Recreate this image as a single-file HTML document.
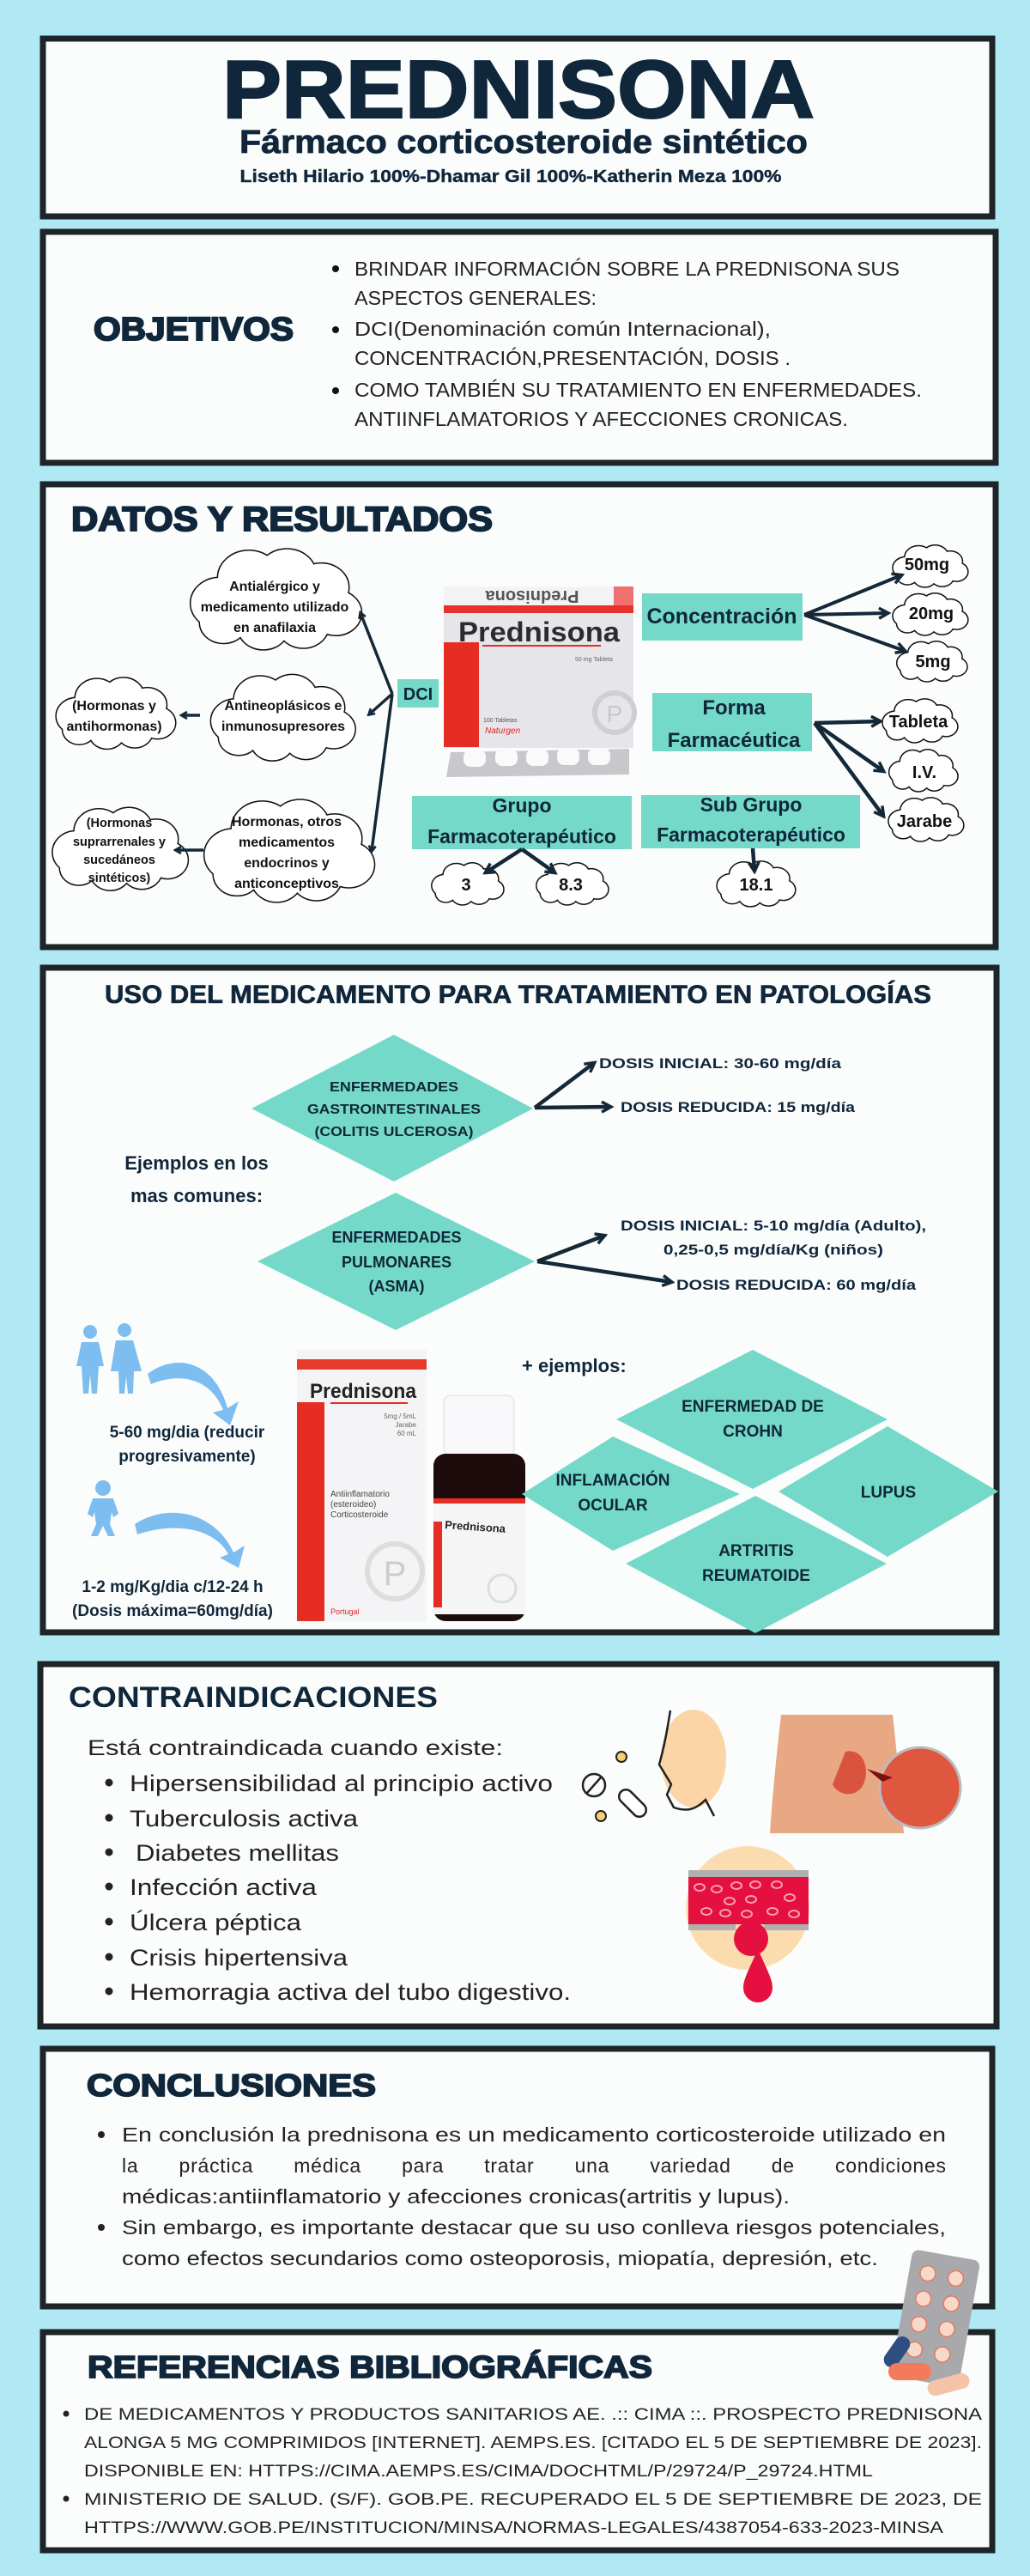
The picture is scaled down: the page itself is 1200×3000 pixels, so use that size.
<!DOCTYPE html>
<html><head><meta charset="utf-8"><style>
html,body{margin:0;padding:0;background:#b0e9f4;}
svg{display:block}
text{font-family:"Liberation Sans",sans-serif;}
</style></head><body>
<svg width="1200" height="3000" viewBox="0 0 1200 3000" xmlns="http://www.w3.org/2000/svg">
<defs>
<marker id="ah" markerWidth="10" markerHeight="10" refX="7" refY="5" orient="auto" markerUnits="userSpaceOnUse" viewBox="0 0 10 10">
<path d="M1,1 L8,5 L1,9" fill="none" stroke="#142838" stroke-width="2.6"/></marker>
<marker id="ah2" markerWidth="16" markerHeight="16" refX="12" refY="8" orient="auto" markerUnits="userSpaceOnUse" viewBox="0 0 16 16">
<path d="M2,2 L13,8 L2,14" fill="none" stroke="#142838" stroke-width="3.5"/></marker>
<symbol id="cloud" viewBox="0 0 100 66" preserveAspectRatio="none" overflow="visible">
<g fill="none" stroke="#111" stroke-width="3" vector-effect="non-scaling-stroke">
<circle cx="20" cy="36" r="16" vector-effect="non-scaling-stroke"/><circle cx="36" cy="20" r="17" vector-effect="non-scaling-stroke"/><circle cx="57" cy="18" r="16" vector-effect="non-scaling-stroke"/><circle cx="76" cy="26" r="15" vector-effect="non-scaling-stroke"/><circle cx="84" cy="42" r="14" vector-effect="non-scaling-stroke"/><circle cx="66" cy="50" r="14" vector-effect="non-scaling-stroke"/><circle cx="44" cy="51" r="14" vector-effect="non-scaling-stroke"/><circle cx="22" cy="48" r="13" vector-effect="non-scaling-stroke"/></g>
<g fill="#fff"><circle cx="20" cy="36" r="16"/><circle cx="36" cy="20" r="17"/><circle cx="57" cy="18" r="16"/><circle cx="76" cy="26" r="15"/><circle cx="84" cy="42" r="14"/><circle cx="66" cy="50" r="14"/><circle cx="44" cy="51" r="14"/><circle cx="22" cy="48" r="13"/><rect x="25" y="25" width="55" height="25"/></g>
</symbol>
</defs>
<rect width="1200" height="3000" fill="#b0e9f4"/>

<!-- BOX 1 -->
<rect x="50" y="45" width="1106" height="207" fill="#fbfdfd" stroke="#1d2529" stroke-width="7"/>
<text x="604" y="137" text-anchor="middle" font-size="96" font-weight="bold" fill="#10263a" stroke="#10263a" stroke-width="2" textLength="690" lengthAdjust="spacingAndGlyphs">PREDNISONA</text>
<text x="610" y="178" text-anchor="middle" font-size="38" font-weight="bold" fill="#10263a" stroke="#10263a" stroke-width="0.8" textLength="662" lengthAdjust="spacingAndGlyphs">Fármaco corticosteroide sintético</text>
<text x="595" y="212" text-anchor="middle" font-size="20" font-weight="bold" fill="#10263a" stroke="#10263a" stroke-width="0.4" textLength="631" lengthAdjust="spacingAndGlyphs">Liseth Hilario 100%-Dhamar Gil 100%-Katherin Meza 100%</text>

<!-- BOX 2 -->
<rect x="50" y="270" width="1110" height="269" fill="#fbfdfd" stroke="#1d2529" stroke-width="7"/>
<text x="109" y="396" font-size="38" font-weight="bold" fill="#10263a" stroke="#10263a" stroke-width="2" textLength="233" lengthAdjust="spacingAndGlyphs">OBJETIVOS</text>
<g font-size="23" fill="#222">
<circle cx="391" cy="313" r="4" fill="#111"/><circle cx="391" cy="384" r="4" fill="#111"/><circle cx="391" cy="455" r="4" fill="#111"/>
<text x="413" y="321" textLength="635" lengthAdjust="spacingAndGlyphs">BRINDAR INFORMACIÓN SOBRE LA PREDNISONA SUS</text>
<text x="413" y="355" textLength="282" lengthAdjust="spacingAndGlyphs">ASPECTOS GENERALES:</text>
<text x="413" y="391" textLength="485" lengthAdjust="spacingAndGlyphs">DCI(Denominación común Internacional),</text>
<text x="413" y="425" textLength="508" lengthAdjust="spacingAndGlyphs">CONCENTRACIÓN,PRESENTACIÓN, DOSIS .</text>
<text x="413" y="462" textLength="661" lengthAdjust="spacingAndGlyphs">COMO TAMBIÉN SU TRATAMIENTO EN ENFERMEDADES.</text>
<text x="413" y="496" textLength="575" lengthAdjust="spacingAndGlyphs">ANTIINFLAMATORIOS Y AFECCIONES CRONICAS.</text>
</g>

<!-- BOX 3 -->
<rect x="50" y="564" width="1110" height="539" fill="#fbfdfd" stroke="#1d2529" stroke-width="7"/>
<text x="83" y="618" font-size="40" font-weight="bold" fill="#10263a" stroke="#10263a" stroke-width="2" textLength="491" lengthAdjust="spacingAndGlyphs">DATOS Y RESULTADOS</text>

<use href="#cloud" x="214" y="636" width="211" height="122"/>
<use href="#cloud" x="239" y="783" width="178" height="104"/>
<use href="#cloud" x="60" y="787" width="147" height="86"/>
<use href="#cloud" x="230" y="928" width="210" height="124"/>
<use href="#cloud" x="55" y="938" width="167" height="100"/>
<g font-size="16" font-weight="bold" fill="#111" text-anchor="middle">
<text x="320" y="688">Antialérgico y</text><text x="320" y="712">medicamento utilizado</text><text x="320" y="736">en anafilaxia</text>
<text x="330" y="827">Antineoplásicos e</text><text x="330" y="851">inmunosupresores</text>
<text x="133" y="827">(Hormonas y</text><text x="133" y="851">antihormonas)</text>
<text x="334" y="962">Hormonas, otros</text><text x="334" y="986">medicamentos</text><text x="334" y="1010">endocrinos y</text><text x="334" y="1034">anticonceptivos</text>
</g>
<g font-size="14.5" font-weight="bold" fill="#111" text-anchor="middle">
<text x="139" y="963">(Hormonas</text><text x="139" y="985">suprarrenales y</text><text x="139" y="1006">sucedáneos</text><text x="139" y="1027">sintéticos)</text>
</g>
<g stroke="#142838" stroke-width="3.5" fill="none" marker-end="url(#ah)">
<line x1="457" y1="808" x2="420" y2="714"/>
<line x1="457" y1="808" x2="430" y2="832"/>
<line x1="457" y1="808" x2="433" y2="991"/>
<line x1="233" y1="833" x2="212" y2="833"/>
<line x1="237" y1="990" x2="205" y2="990"/>
</g>
<rect x="463" y="791" width="48" height="33" fill="#74d9c8"/>
<text x="487" y="815" text-anchor="middle" font-size="20" font-weight="bold" fill="#10263a">DCI</text>

<!-- product 1 -->
<rect x="517" y="683" width="221" height="188" fill="#e6e6ea"/>
<rect x="517" y="683" width="221" height="24" fill="#f3f3f5"/>
<rect x="517" y="705" width="221" height="9" fill="#e8302c"/>
<rect x="715" y="683" width="23" height="22" fill="#f07070"/>
<text x="620" y="700" text-anchor="middle" font-size="20" font-weight="bold" fill="#555" transform="rotate(180 620 694)">Prednisona</text>
<rect x="517" y="748" width="41" height="122" fill="#e62d24"/>
<text x="534" y="747" font-size="32" font-weight="bold" fill="#2c2c30" textLength="188" lengthAdjust="spacingAndGlyphs">Prednisona</text>
<rect x="562" y="751" width="138" height="2" fill="#e62d24"/>
<text x="670" y="770" font-size="7" fill="#666">50 mg Tableta</text>
<text x="563" y="841" font-size="7" fill="#555">100 Tabletas</text>
<text x="565" y="854" font-size="10" font-style="italic" fill="#d22">Naturgen</text>
<circle cx="716" cy="830" r="23" fill="none" stroke="#cfcfd3" stroke-width="6"/>
<text x="716" y="841" text-anchor="middle" font-size="28" font-family="Liberation Serif" fill="#c8c8cc">P</text>
<path d="M525,876 L733,872 L733,902 L520,905 Z" fill="#c8c8cc"/>
<g fill="#fafafa"><rect x="540" y="873" width="26" height="20" rx="8"/><rect x="577" y="872" width="26" height="20" rx="8"/><rect x="613" y="872" width="26" height="20" rx="8"/><rect x="649" y="871" width="26" height="20" rx="8"/><rect x="685" y="871" width="26" height="20" rx="8"/></g>

<rect x="748" y="691" width="187" height="55" fill="#74d9c8"/>
<text x="841" y="726" text-anchor="middle" font-size="25" font-weight="bold" fill="#10263a">Concentración</text>
<use href="#cloud" x="1037" y="634" width="92" height="50"/>
<use href="#cloud" x="1037" y="690" width="92" height="50"/>
<use href="#cloud" x="1042" y="746" width="86" height="48"/>
<g font-size="20" font-weight="bold" fill="#111" text-anchor="middle">
<text x="1080" y="664">50mg</text><text x="1085" y="721">20mg</text><text x="1087" y="777">5mg</text></g>
<g stroke="#142838" stroke-width="4" fill="none" marker-end="url(#ah2)">
<line x1="937" y1="716" x2="1050" y2="670"/><line x1="937" y1="716" x2="1034" y2="714"/><line x1="937" y1="716" x2="1054" y2="758"/>
</g>
<rect x="760" y="807" width="186" height="68" fill="#74d9c8"/>
<g font-size="24" font-weight="bold" fill="#10263a" text-anchor="middle"><text x="855" y="832">Forma</text><text x="855" y="870">Farmacéutica</text></g>
<use href="#cloud" x="1025" y="813" width="92" height="52"/>
<use href="#cloud" x="1033" y="872" width="84" height="50"/>
<use href="#cloud" x="1032" y="928" width="92" height="52"/>
<g font-size="20" font-weight="bold" fill="#111" text-anchor="middle">
<text x="1070" y="847">Tableta</text><text x="1077" y="906">I.V.</text><text x="1077" y="963">Jarabe</text></g>
<g stroke="#142838" stroke-width="4.5" fill="none" marker-end="url(#ah2)">
<line x1="949" y1="842" x2="1025" y2="840"/><line x1="949" y1="842" x2="1029" y2="898"/><line x1="949" y1="842" x2="1029" y2="950"/>
</g>
<rect x="480" y="927" width="256" height="62" fill="#74d9c8"/>
<g font-size="23" font-weight="bold" fill="#10263a" text-anchor="middle"><text x="608" y="946">Grupo</text><text x="608" y="982">Farmacoterapéutico</text></g>
<rect x="747" y="926" width="255" height="62" fill="#74d9c8"/>
<g font-size="23" font-weight="bold" fill="#10263a" text-anchor="middle"><text x="875" y="945">Sub Grupo</text><text x="875" y="980">Farmacoterapéutico</text></g>
<use href="#cloud" x="500" y="1004" width="88" height="50"/>
<use href="#cloud" x="622" y="1004" width="88" height="50"/>
<use href="#cloud" x="832" y="1002" width="96" height="54"/>
<g font-size="20" font-weight="bold" fill="#111" text-anchor="middle">
<text x="543" y="1037">3</text><text x="665" y="1037">8.3</text><text x="881" y="1037">18.1</text></g>
<g stroke="#142838" stroke-width="4.5" fill="none" marker-end="url(#ah2)">
<line x1="608" y1="989" x2="566" y2="1016"/><line x1="608" y1="989" x2="646" y2="1016"/><line x1="877" y1="988" x2="879" y2="1014"/>
</g>

<!-- BOX 4 -->
<rect x="50" y="1127" width="1111" height="774" fill="#fbfdfd" stroke="#1d2529" stroke-width="7"/>
<text x="122" y="1168" font-size="30" font-weight="bold" fill="#10263a" stroke="#10263a" stroke-width="0.6" textLength="963" lengthAdjust="spacingAndGlyphs">USO DEL MEDICAMENTO PARA TRATAMIENTO EN  PATOLOGÍAS</text>
<polygon points="459,1205 621,1291 459,1376 293,1291" fill="#74d9c8"/>
<g font-size="16" font-weight="bold" fill="#10263a" text-anchor="middle">
<text x="459" y="1271" textLength="150" lengthAdjust="spacingAndGlyphs">ENFERMEDADES</text><text x="459" y="1297" textLength="202" lengthAdjust="spacingAndGlyphs">GASTROINTESTINALES</text><text x="459" y="1323" textLength="185" lengthAdjust="spacingAndGlyphs">(COLITIS ULCEROSA)</text></g>
<g stroke="#142838" stroke-width="4.5" fill="none" marker-end="url(#ah2)">
<polyline points="623,1290 692,1238"/><line x1="623" y1="1290" x2="711" y2="1289"/>
<line x1="626" y1="1469" x2="704" y2="1439"/><line x1="626" y1="1469" x2="782" y2="1493"/>
</g>
<g font-size="17" font-weight="bold" fill="#10263a">
<text x="698" y="1244" textLength="282" lengthAdjust="spacingAndGlyphs">DOSIS INICIAL: 30-60 mg/día</text>
<text x="723" y="1295" textLength="273" lengthAdjust="spacingAndGlyphs">DOSIS REDUCIDA: 15 mg/día</text>
<text x="723" y="1433" textLength="356" lengthAdjust="spacingAndGlyphs">DOSIS INICIAL: 5-10 mg/día (Adulto),</text>
<text x="773" y="1461" textLength="256" lengthAdjust="spacingAndGlyphs">0,25-0,5 mg/día/Kg (niños)</text>
<text x="788" y="1502" textLength="279" lengthAdjust="spacingAndGlyphs">DOSIS REDUCIDA: 60 mg/día</text>
</g>
<g font-size="22" font-weight="bold" fill="#10263a" text-anchor="middle">
<text x="229" y="1362">Ejemplos en los</text><text x="229" y="1400">mas comunes:</text></g>
<polygon points="461,1389 623,1469 461,1549 300,1469" fill="#74d9c8"/>
<g font-size="18" font-weight="bold" fill="#10263a" text-anchor="middle">
<text x="462" y="1447">ENFERMEDADES</text><text x="462" y="1476">PULMONARES</text><text x="462" y="1504">(ASMA)</text></g>

<!-- people icons -->
<g fill="#7dbdf0">
<circle cx="105" cy="1551" r="8"/><path d="M95,1563 h20 l6,28 h-6 l-2,32 h-6 l-2,-22 l-2,22 h-6 l-2,-32 h-6 z"/>
<circle cx="145" cy="1549" r="8"/><path d="M135,1561 h20 l10,36 h-9 l-1,26 h-6 l-2,-20 l-2,20 h-6 l-1,-26 h-9 z"/>
<circle cx="120" cy="1733" r="9"/><path d="M108,1745 h24 l6,18 l-6,4 l-2,-6 l-2,14 l6,14 h-8 l-6,-12 l-6,12 h-8 l6,-14 l-2,-14 l-2,6 l-6,-4 z"/>
<path d="M172,1600 C205,1575 250,1585 265,1640 L278,1632 L268,1660 L248,1645 L260,1642 C245,1605 210,1598 176,1612 Z"/>
<path d="M157,1775 C195,1750 250,1760 272,1808 L285,1800 L278,1826 L256,1814 L266,1810 C250,1780 205,1772 160,1787 Z"/>
</g>
<g font-size="19" font-weight="bold" fill="#10263a" text-anchor="middle">
<text x="218" y="1674">5-60 mg/dia (reducir</text><text x="218" y="1702">progresivamente)</text>
<text x="201" y="1854">1-2 mg/Kg/dia c/12-24 h</text><text x="201" y="1882">(Dosis máxima=60mg/día)</text></g>

<!-- product 2 -->
<rect x="346" y="1572" width="151" height="316" fill="#f4f4f6"/>
<rect x="346" y="1583" width="151" height="12" fill="#e63a2a"/>
<rect x="346" y="1633" width="32" height="255" fill="#e62d24"/>
<text x="361" y="1628" font-size="24" font-weight="bold" fill="#222" textLength="124" lengthAdjust="spacingAndGlyphs">Prednisona</text>
<rect x="385" y="1633" width="90" height="2" fill="#e62d24"/>
<g font-size="8" fill="#666" text-anchor="end"><text x="485" y="1652">5mg / 5mL</text><text x="485" y="1662">Jarabe</text><text x="485" y="1672">60 mL</text></g>
<g font-size="10" fill="#444"><text x="385" y="1743">Antiinflamatorio</text><text x="385" y="1755">(esteroideo)</text><text x="385" y="1767">Corticosteroide</text></g>
<circle cx="460" cy="1830" r="32" fill="none" stroke="#ddd" stroke-width="6"/>
<text x="460" y="1846" text-anchor="middle" font-size="40" font-family="Liberation Serif" fill="#ccc">P</text>
<text x="385" y="1880" font-size="9" fill="#d22">Portugal</text>
<rect x="517" y="1625" width="82" height="70" rx="8" fill="#f8f8fa" stroke="#ddd"/>
<rect x="505" y="1693" width="107" height="195" rx="14" fill="#1e0c0c"/>
<rect x="505" y="1745" width="107" height="135" fill="#f5f5f5"/>
<rect x="505" y="1745" width="107" height="6" fill="#e62d24"/>
<rect x="505" y="1772" width="10" height="100" fill="#e62d24"/>
<text x="518" y="1780" font-size="13" font-weight="bold" fill="#222" transform="rotate(4 518 1780)">Prednisona</text>
<circle cx="585" cy="1850" r="16" fill="none" stroke="#ddd" stroke-width="3"/>

<text x="608" y="1598" font-size="22" font-weight="bold" fill="#10263a">+ ejemplos:</text>
<polygon points="877,1572 1034,1653 877,1734 718,1653" fill="#74d9c8"/>
<polygon points="714,1673 862,1740 714,1806 608,1740" fill="#74d9c8"/>
<polygon points="1034,1661 1163,1737 1034,1813 907,1737" fill="#74d9c8"/>
<polygon points="880,1742 1033,1821 880,1902 729,1821" fill="#74d9c8"/>
<g font-size="19" font-weight="bold" fill="#10263a" text-anchor="middle">
<text x="877" y="1644">ENFERMEDAD DE</text><text x="877" y="1673">CROHN</text>
<text x="714" y="1730">INFLAMACIÓN</text><text x="714" y="1759">OCULAR</text>
<text x="1035" y="1744">LUPUS</text>
<text x="881" y="1812">ARTRITIS</text><text x="881" y="1841">REUMATOIDE</text></g>

<!-- BOX 5 -->
<rect x="47" y="1938" width="1114" height="422" fill="#fbfdfd" stroke="#1d2529" stroke-width="7"/>
<text x="80" y="1988" font-size="34" font-weight="bold" fill="#10263a" textLength="430" lengthAdjust="spacingAndGlyphs">CONTRAINDICACIONES</text>
<text x="102" y="2044" font-size="25" fill="#222" textLength="484" lengthAdjust="spacingAndGlyphs">Está contraindicada cuando existe:</text>
<g font-size="27" fill="#222">
<circle cx="127" cy="2076" r="4.5"/><circle cx="127" cy="2117" r="4.5"/><circle cx="127" cy="2157" r="4.5"/><circle cx="127" cy="2197" r="4.5"/><circle cx="127" cy="2238" r="4.5"/><circle cx="127" cy="2279" r="4.5"/><circle cx="127" cy="2319" r="4.5"/>
<text x="151" y="2086" textLength="493" lengthAdjust="spacingAndGlyphs">Hipersensibilidad al principio activo</text>
<text x="151" y="2127" textLength="266" lengthAdjust="spacingAndGlyphs">Tuberculosis activa</text>
<text x="158" y="2167" textLength="237" lengthAdjust="spacingAndGlyphs">Diabetes mellitas</text>
<text x="151" y="2207" textLength="218" lengthAdjust="spacingAndGlyphs">Infección activa</text>
<text x="151" y="2248" textLength="200" lengthAdjust="spacingAndGlyphs">Úlcera péptica</text>
<text x="151" y="2289" textLength="254" lengthAdjust="spacingAndGlyphs">Crisis hipertensiva</text>
<text x="151" y="2329" textLength="514" lengthAdjust="spacingAndGlyphs">Hemorragia activa del tubo digestivo.</text>
</g>
<!-- face -->
<ellipse cx="808" cy="2048" rx="38" ry="57" fill="#fbd5a5"/>
<path d="M781,1992 C778,2010 775,2030 768,2055 L782,2078 L777,2090 L785,2105 C800,2110 810,2108 822,2096 L832,2115" fill="none" stroke="#222" stroke-width="2.5"/>
<circle cx="724" cy="2046" r="6" fill="#f7d070" stroke="#222" stroke-width="2"/>
<circle cx="700" cy="2115" r="6" fill="#f7d070" stroke="#222" stroke-width="2"/>
<circle cx="692" cy="2079" r="13" fill="none" stroke="#222" stroke-width="2.5"/><line x1="684" y1="2088" x2="700" y2="2070" stroke="#222" stroke-width="2.5"/>
<rect x="718" y="2092" width="38" height="16" rx="8" fill="#fff" stroke="#222" stroke-width="2.5" transform="rotate(45 737 2100)"/>
<!-- torso -->
<path d="M910,1997 L1040,1997 C1045,2040 1050,2100 1053,2135 L897,2135 C900,2090 905,2040 910,1997 Z" fill="#e9a884"/>
<path d="M985,2040 C1005,2035 1015,2060 1005,2080 C995,2095 975,2090 970,2078" fill="#d9533f"/>
<circle cx="1072" cy="2082" r="47" fill="#e0573f" stroke="#bbb" stroke-width="3"/>
<path d="M1010,2060 L1028,2075 L1040,2070 Z" fill="#7a1010"/>
<!-- blood -->
<circle cx="871" cy="2222" r="72" fill="#fbdcae"/>
<rect x="802" y="2178" width="140" height="8" fill="#b0b0b0"/>
<rect x="802" y="2186" width="140" height="55" fill="#e5103f"/>
<rect x="802" y="2241" width="55" height="7" fill="#b0b0b0"/><rect x="890" y="2241" width="52" height="7" fill="#b0b0b0"/>
<circle cx="875" cy="2258" r="20" fill="#e5103f"/>
<path d="M883,2270 C872,2295 866,2305 866,2315 A17,17 0 0 0 900,2315 C900,2305 894,2295 883,2270 Z" fill="#e5103f"/>
<g fill="none" stroke="#f7a1b5" stroke-width="2"><ellipse cx="815" cy="2198" rx="6" ry="4"/><ellipse cx="835" cy="2200" rx="6" ry="4"/><ellipse cx="858" cy="2196" rx="6" ry="4"/><ellipse cx="880" cy="2195" rx="6" ry="4"/><ellipse cx="905" cy="2195" rx="6" ry="4"/><ellipse cx="920" cy="2210" rx="6" ry="4"/><ellipse cx="850" cy="2214" rx="6" ry="4"/><ellipse cx="875" cy="2212" rx="6" ry="4"/><ellipse cx="823" cy="2226" rx="6" ry="4"/><ellipse cx="845" cy="2228" rx="6" ry="4"/><ellipse cx="870" cy="2229" rx="6" ry="4"/><ellipse cx="900" cy="2226" rx="6" ry="4"/><ellipse cx="925" cy="2229" rx="6" ry="4"/></g>

<!-- BOX 6 -->
<rect x="50" y="2386" width="1106" height="300" fill="#fbfdfd" stroke="#1d2529" stroke-width="7"/>
<text x="101" y="2441" font-size="36" font-weight="bold" fill="#10263a" stroke="#10263a" stroke-width="1.8" textLength="337" lengthAdjust="spacingAndGlyphs">CONCLUSIONES</text>
<g font-size="23" fill="#222">
<circle cx="118" cy="2486" r="4"/><circle cx="118" cy="2594" r="4"/>
<text x="142" y="2494" textLength="960" lengthAdjust="spacingAndGlyphs">En conclusión la prednisona es un medicamento corticosteroide utilizado en</text>
<text x="142" y="2530" textLength="960" lengthAdjust="spacing" word-spacing="40">la práctica médica para tratar una variedad de condiciones</text>
<text x="142" y="2566" textLength="778" lengthAdjust="spacingAndGlyphs">médicas:antiinflamatorio y afecciones cronicas(artritis y lupus).</text>
<text x="142" y="2602" textLength="960" lengthAdjust="spacingAndGlyphs">Sin embargo, es importante destacar que su uso conlleva riesgos potenciales,</text>
<text x="142" y="2638" textLength="881" lengthAdjust="spacingAndGlyphs">como efectos secundarios como osteoporosis, miopatía, depresión, etc.</text>
</g>

<!-- BOX 7 -->
<rect x="50" y="2716" width="1106" height="254" fill="#fbfdfd" stroke="#1d2529" stroke-width="7"/>
<text x="102" y="2769" font-size="36" font-weight="bold" fill="#10263a" stroke="#10263a" stroke-width="1.8" textLength="658" lengthAdjust="spacingAndGlyphs">REFERENCIAS BIBLIOGRÁFICAS</text>
<g font-size="19" fill="#222">
<circle cx="77" cy="2811" r="3.5"/><circle cx="77" cy="2910" r="3.5"/>
<text x="98" y="2818" textLength="1046" lengthAdjust="spacingAndGlyphs">DE MEDICAMENTOS Y PRODUCTOS SANITARIOS AE. .:: CIMA ::. PROSPECTO PREDNISONA</text>
<text x="98" y="2851" textLength="1046" lengthAdjust="spacingAndGlyphs">ALONGA 5 MG COMPRIMIDOS [INTERNET]. AEMPS.ES. [CITADO EL 5 DE SEPTIEMBRE DE 2023].</text>
<text x="98" y="2884" textLength="919" lengthAdjust="spacingAndGlyphs">DISPONIBLE EN: HTTPS://CIMA.AEMPS.ES/CIMA/DOCHTML/P/29724/P_29724.HTML</text>
<text x="98" y="2917" textLength="1046" lengthAdjust="spacingAndGlyphs">MINISTERIO DE SALUD. (S/F). GOB.PE. RECUPERADO EL 5 DE SEPTIEMBRE DE 2023, DE</text>
<text x="98" y="2950" textLength="1001" lengthAdjust="spacingAndGlyphs">HTTPS://WWW.GOB.PE/INSTITUCION/MINSA/NORMAS-LEGALES/4387054-633-2023-MINSA</text>
</g>
<!-- pills image -->
<g transform="rotate(10 1090 2700)">
<rect x="1050" y="2625" width="80" height="150" rx="8" fill="#a9a9ad"/>
<g fill="#f6d9c8" stroke="#e07a60" stroke-width="1.5">
<circle cx="1072" cy="2650" r="9"/><circle cx="1105" cy="2650" r="9"/><circle cx="1072" cy="2680" r="9"/><circle cx="1105" cy="2680" r="9"/><circle cx="1072" cy="2710" r="9"/><circle cx="1105" cy="2710" r="9"/><circle cx="1072" cy="2740" r="9"/><circle cx="1105" cy="2740" r="9"/></g>
</g>
<rect x="1025" y="2730" width="40" height="18" rx="9" fill="#2e4d80" transform="rotate(-55 1045 2739)"/>
<rect x="1035" y="2752" width="50" height="20" rx="10" fill="#f47a5c"/>
<rect x="1080" y="2768" width="50" height="18" rx="9" fill="#f4c4a8" transform="rotate(-15 1105 2777)"/>
</svg>
</body></html>
